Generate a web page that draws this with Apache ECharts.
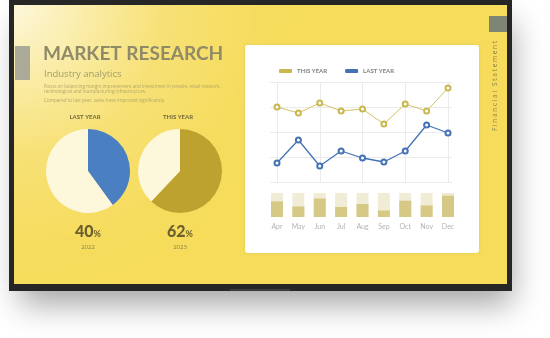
<!DOCTYPE html>
<html>
<head>
<meta charset="utf-8">
<script src="https://cdn.jsdelivr.net/npm/echarts@6/dist/echarts.min.js"></script>
<style>html,body{margin:0;padding:0;background:#fff;}#c{width:550px;height:338px;}</style>
</head>
<body>
<div id="c"></div>
<script>
const months = ['Apr','May','Jun','Jul','Aug','Sep','Oct','Nov','Dec'];
const thisYear = [75, 69, 79, 71, 73, 58, 78, 71, 94];
const lastYear = [19, 42, 16, 31, 24, 20, 31, 57, 49];
const barValues = [65, 44, 77, 42, 54, 27, 68, 48, 89];
const pieLastYear = [40, 60];
const pieThisYear = [62, 38];
const pieYears = ['2022', '2023'];
const legendNames = ['THIS YEAR', 'LAST YEAR'];

const chart = echarts.init(document.getElementById('c'), null, {renderer:'canvas'});

function txt(x, y, text, font, fill, align, vAlign, extra) {
  return Object.assign({
    type: 'text', x: x, y: y,
    style: { text: text, font: font, fill: fill,
      align: align || 'left', verticalAlign: vAlign || 'middle',
      textAlign: align || 'left', textVerticalAlign: vAlign || 'middle' }
  }, extra || {});
}
function pct(v) {
  return { text:'{a|' + v + '}{b|%}', align:'center', verticalAlign:'middle', textAlign:'center', textVerticalAlign:'middle',
    rich:{ a:{font:'900 16px Lato', fill:'#6b5f30', color:'#6b5f30'}, b:{font:'bold 9px Lato', fill:'#6b5f30', color:'#6b5f30', padding:[4,0,0,0]} } };
}

const graphics = [
  // shadow + TV frame
  { type:'rect', shape:{x:16, y:6, width:492, height:282}, style:{fill:'#fff', shadowBlur:30, shadowOffsetY:16, shadowOffsetX:4, shadowColor:'rgba(0,0,0,0.36)'} },
  { type:'rect', shape:{x:9, y:-2, width:503, height:293}, style:{fill:'#262626'} },
  { type:'rect', shape:{x:230, y:289, width:60, height:1.5}, style:{fill:'#444'} },
  { type:'rect', shape:{x:14, y:5, width:493, height:279},
    style:{fill: new echarts.graphic.RadialGradient(14, 5, 300, [
      {offset:0, color:'#fdf7da'},
      {offset:0.25, color:'#faeca6'},
      {offset:0.5, color:'#f7e176'},
      {offset:0.8, color:'#f6dc5e'},
      {offset:1, color:'#f6dc5a'}], true)} },
  // decoration rects
  { type:'rect', shape:{x:15, y:46, width:15, height:34}, style:{fill:'#abaa98'} },
  { type:'rect', shape:{x:489, y:16, width:18, height:16}, style:{fill:'#7f8574'} },
  // white panel
  { type:'rect', shape:{x:245, y:45, width:234, height:208, r:3}, style:{fill:'#ffffff', shadowBlur:3, shadowColor:'rgba(0,0,0,0.08)'} },
  // texts
  txt(43, 54, 'MARKET RESEARCH', 'bold 19px Lato', '#8f8a68', 'left', 'middle'),
  txt(44, 74, 'Industry analytics', '9.5px "Open Sans"', '#a39c6a', 'left', 'middle'),
  txt(44, 87, 'Focus on balancing margin improvement and investment in people, retail network,', '4.6px "Open Sans"', '#b3a96b', 'left', 'middle'),
  txt(44, 92, 'technological and manufacturing infrastructure.', '4.6px "Open Sans"', '#b3a96b', 'left', 'middle'),
  txt(44, 101, 'Compared to last year, sales have improved significantly.', '4.6px "Open Sans"', '#b3a96b', 'left', 'middle'),
  txt(85, 117, 'LAST YEAR', 'bold 6px Lato', '#6f6840', 'center', 'middle'),
  txt(178, 117, 'THIS YEAR', 'bold 6px Lato', '#6f6840', 'center', 'middle'),
  { type:'text', x:88, y:232, style: pct(pieLastYear[0]) },
  { type:'text', x:180, y:232, style: pct(pieThisYear[0]) },
  txt(88, 247, pieYears[0], '6px "Open Sans"', '#8a7f4a', 'center', 'middle'),
  txt(180, 247, pieYears[1], '6px "Open Sans"', '#8a7f4a', 'center', 'middle'),
  txt(495, 86, 'F i n a n c i a l   S t a t e m e n t', '6.5px "Open Sans"', '#8a8256', 'center', 'middle', {rotation: Math.PI/2})
];

const option = {
  backgroundColor: '#ffffff',
  animation: false,
  graphic: { elements: graphics },
  legend: {
    data: legendNames,
    left: 274, top: 63,
    icon: 'roundRect', itemWidth: 13, itemHeight: 4, itemGap: 18,
    textStyle: { fontSize: 6, fontWeight: 'bold', color: '#808080', fontFamily: 'Lato' }
  },
  grid: [
    { left: 270, width: 182, top: 82, height: 100 },
    { left: 277, width: 171, top: 82, height: 100 },
    { left: 266.3, width: 192.4, top: 193, height: 24 }
  ],
  xAxis: [
    { gridIndex: 0, type: 'category', data: months, show: false },
    { gridIndex: 1, type: 'category', data: months, boundaryGap: false,
      axisLine: {show:false}, axisTick: {show:false}, axisLabel: {show:false},
      splitLine: { show: true, lineStyle: { color: '#ebebeb', width: 1 } } },
    { gridIndex: 2, type: 'category', data: months, boundaryGap: true,
      axisLine: {show:false}, axisTick: {show:false},
      axisLabel: { margin: 6, fontSize: 7, color: '#b3b3b3', fontFamily: 'Lato' } }
  ],
  yAxis: [
    { gridIndex: 0, type: 'value', min: 0, max: 100, interval: 25,
      axisLine: {show:false}, axisTick: {show:false}, axisLabel: {show:false},
      splitLine: { show: true, lineStyle: { color: '#ebebeb', width: 1 } } },
    { gridIndex: 1, type: 'value', min: 0, max: 100, show: false, splitLine: {show:false} },
    { gridIndex: 2, type: 'value', min: 0, max: 100, show: false, splitLine: {show:false} }
  ],
  series: [
    { name: 'THIS YEAR', type: 'line', xAxisIndex: 1, yAxisIndex: 1, data: thisYear,
      symbol: 'emptyCircle', symbolSize: 5, color: '#c9b84e',
      lineStyle: { width: 1, color: '#d2c266' }, itemStyle: { color: '#c9b84e', borderWidth: 1.2 } },
    { name: 'LAST YEAR', type: 'line', xAxisIndex: 1, yAxisIndex: 1, data: lastYear,
      symbol: 'emptyCircle', symbolSize: 5, color: '#4472b5',
      lineStyle: { width: 1.3, color: '#4472b5' }, itemStyle: { color: '#4472b5', borderWidth: 1.2 } },
    { name: 'Share', type: 'bar', xAxisIndex: 2, yAxisIndex: 2, data: barValues, barWidth: 12,
      itemStyle: { color: '#d5c985' }, showBackground: true,
      backgroundStyle: { color: '#f1ecd6' } },
    { name: 'Pie 2022', type: 'pie', center: [88, 171], radius: 42, startAngle: 90, clockwise: true,
      label: {show:false}, labelLine: {show:false}, silent: true,
      data: [ { value: pieLastYear[0], name: 'Blue 2022', itemStyle: { color: '#4a7fc2' } },
              { value: pieLastYear[1], name: 'Rest 2022', itemStyle: { color: '#fdf7dc' } } ] },
    { name: 'Pie 2023', type: 'pie', center: [180, 171], radius: 42, startAngle: 90, clockwise: true,
      label: {show:false}, labelLine: {show:false}, silent: true,
      data: [ { value: pieThisYear[0], name: 'Olive 2023', itemStyle: { color: '#bea22f' } },
              { value: pieThisYear[1], name: 'Rest 2023', itemStyle: { color: '#fdf7dc' } } ] }
  ]
};
chart.setOption(option);
</script>
</body>
</html>
